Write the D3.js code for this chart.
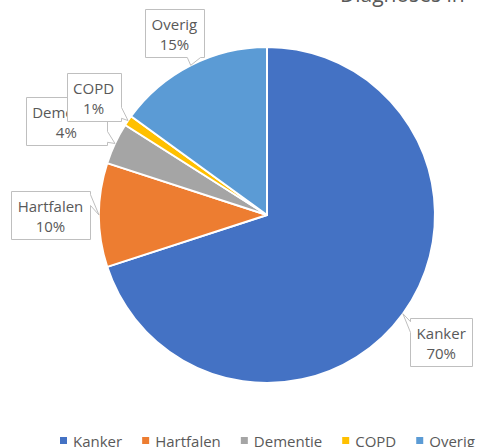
<!DOCTYPE html>
<meta charset="utf-8">
<style>
  body { margin: 0; background: #fff; overflow: hidden; }
  text { font-family: "Open Sans", Lato, sans-serif; fill: #595959; }
</style>
<div id="chart"></div>
<script src="https://cdn.jsdelivr.net/npm/d3@7"></script>
<script>

// data
var categories = ["Kanker", "Hartfalen", "Dementie", "COPD", "Overig"]
var shares = [70, 10, 4, 1, 15]
var colors = ["#4472C4", "#ED7D31", "#A5A5A5", "#FFC000", "#5B9BD5"]
var titleText = "Diagnoses in"

var W = 481, H = 447
var cx = 267, cy = 215, R = 168

var svg = d3.select("#chart").append("svg")
  .attr("width", W)
  .attr("height", H)

// title, mostly cut off at the top like the original
svg.append("text")
  .attr("x", 340)
  .attr("y", 1.5)
  .style("font-size", "21px")
  .text(titleText)

var pie = d3.pie().sort(null).value(function (d) { return d.v })
var arc = d3.arc().innerRadius(0).outerRadius(R)

var rows = categories.map(function (c, i) { return { name: c, v: shares[i], color: colors[i] } })
var arcs = pie(rows)

var g = svg.append("g").attr("transform", "translate(" + cx + "," + cy + ")")

g.selectAll("path.slice")
  .data(arcs)
  .enter()
  .append("path")
    .attr("class", "slice")
    .attr("d", arc)
    .attr("fill", function (d) { return d.data.color })
    .attr("stroke", "#fff")
    .attr("stroke-width", 2)
    .attr("stroke-linejoin", "round")

// callout box with a wedge pointing at the slice (wedge sits near the corner closest to the tip)
function calloutPath(x0, y0, x1, y1, tx, ty) {
  var mx = (x0 + x1) / 2, my = (y0 + y1) / 2
  var w = x1 - x0, h = y1 - y0
  var dx = tx - mx, dy = ty - my
  var side
  if (Math.abs(dy) - Math.abs(dx * h / w) > 0) side = dy > 0 ? "b" : "t"
  else side = dx > 0 ? "r" : "l"
  var a1 = 0.8 / 12, a2 = 3.5 / 12
  var bx1, bx2, by1, by2
  if (dx > 0) { bx1 = x1 - w * a2; bx2 = x1 - w * a1 } else { bx1 = x0 + w * a1; bx2 = x0 + w * a2 }
  if (dy > 0) { by1 = y1 - h * a2; by2 = y1 - h * a1 } else { by1 = y0 + h * a1; by2 = y0 + h * a2 }
  var p = []
  p.push([x0, y0])
  if (side == "t") p.push([bx1, y0], [tx, ty], [bx2, y0])
  p.push([x1, y0])
  if (side == "r") p.push([x1, by1], [tx, ty], [x1, by2])
  p.push([x1, y1])
  if (side == "b") p.push([bx2, y1], [tx, ty], [bx1, y1])
  p.push([x0, y1])
  if (side == "l") p.push([x0, by2], [tx, ty], [x0, by1])
  return "M" + p.map(function (q) { return q[0] + "," + q[1] }).join("L") + "Z"
}

var gap = 9
var boxH = 48

arcs.forEach(function (d) {
  var a = (d.startAngle + d.endAngle) / 2
  var ux = Math.sin(a), uy = -Math.cos(a)
  var tx = cx + R * ux
  var ty = cy + R * uy

  var lab = svg.append("g")
  var box = lab.append("path")
  var t1 = lab.append("text")
    .attr("text-anchor", "middle")
    .style("font-size", "15px")
    .text(d.data.name)
  var t2 = lab.append("text")
    .attr("text-anchor", "middle")
    .style("font-size", "15px")
    .text(d.data.v + "%")
  var tw = Math.max(t1.node().getComputedTextLength(), t2.node().getComputedTextLength())
  var bw = Math.round(tw + 13)

  // push the box out along the slice's middle until its edge clears the pie
  var reach = Math.min(
    Math.abs(ux) > 1e-6 ? (bw / 2) / Math.abs(ux) : Infinity,
    Math.abs(uy) > 1e-6 ? (boxH / 2) / Math.abs(uy) : Infinity)
  var dist = R + gap + reach
  var lx = cx + dist * ux
  var ly = cy + dist * uy

  t1.attr("x", lx).attr("y", ly - 3)
  t2.attr("x", lx).attr("y", ly + 17)
  var x0 = Math.round(lx - bw / 2) + 0.5, y0 = Math.round(ly - boxH / 2) + 0.5
  box.attr("d", calloutPath(x0, y0, x0 + bw, y0 + boxH, tx, ty))
    .attr("fill", "#fff")
    .attr("stroke", "#BFBFBF")
    .attr("stroke-width", 1)
})

// legend
var legend = svg.append("g")
var items = legend.selectAll("g")
  .data(rows)
  .enter()
  .append("g")

items.append("rect")
  .attr("width", 7)
  .attr("height", 7)
  .attr("fill", function (d) { return d.color })

items.append("text")
  .attr("x", 13)
  .attr("y", 10)
  .style("font-size", "15px")
  .text(function (d) { return d.name })

var xpos = 0
items.each(function () {
  var it = d3.select(this)
  it.attr("transform", "translate(" + xpos + ",0)")
  xpos += 13 + it.select("text").node().getComputedTextLength() + 20
})
xpos -= 20
legend.attr("transform", "translate(" + Math.round(cx - xpos / 2) + ",437)")

</script>
